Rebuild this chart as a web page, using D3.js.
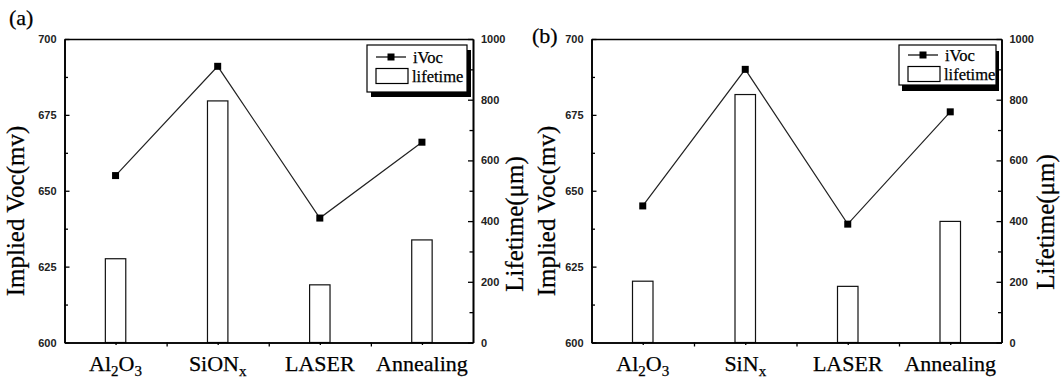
<!DOCTYPE html>
<html>
<head>
<meta charset="utf-8">
<script src="https://cdn.jsdelivr.net/npm/d3@7"></script>
<style>
  html, body { margin: 0; padding: 0; background: #fff; }
  svg { display: block; }
  .tick text { font-family: "Liberation Sans", Arial, sans-serif; font-weight: bold; font-size: 11px; fill: #222; }
  .serif { font-family: "Liberation Serif", "Times New Roman", serif; fill: #000; stroke: #000; stroke-width: 0.25px; }
</style>
</head>
<body>
<svg id="chart" width="1062" height="381"></svg>
<script>
// ---------------- data ----------------
const categoriesA = ["Al_2O_3", "SiON_x", "LASER", "Annealing"];
const ivocA       = [655, 691, 641, 666];     // mV
const lifetimeA   = [276, 796, 190, 338];

const categoriesB = ["Al_2O_3", "SiN_x", "LASER", "Annealing"];
const ivocB       = [645, 690, 639, 676];
const lifetimeB   = [202, 817, 185, 399];

const leftTicks   = [600, 625, 650, 675, 700];
const leftMinor   = [612.5, 637.5, 662.5, 687.5];
const rightTicks  = [0, 200, 400, 600, 800, 1000];
const rightMinor  = [100, 300, 500, 700, 900];
const leftTitle   = "Implied Voc(mv)";
const rightTitle  = "Lifetime(\u03bcm)";
const legendLabels = ["iVoc", "lifetime"];

// ---------------- layout ----------------
const panels = [
  { tag: "(a)", tagX: 9, tagY: 25, cats: categoriesA, ivoc: ivocA, life: lifetimeA,
    l: 64.5, r: 473, t: 39, b: 342.5, lt: [24, 211], rt: [523, 224],
    lg: { x: 367, y: 45, w: 100, h: 47, sx: 4, sy: 5, r1: 57, r2: 76 } },
  { tag: "(b)", tagX: 532, tagY: 43, cats: categoriesB, ivoc: ivocB, life: lifetimeB,
    l: 591.5, r: 1001.5, t: 39, b: 342.5, lt: [555, 211], rt: [1054, 222],
    lg: { x: 899, y: 45, w: 97, h: 40, sx: 3, sy: 6, r1: 55, r2: 74 } }
];

const svg = d3.select("#chart");

function addLabel(sel, txt, subSize) {
  const parts = txt.split(/(_.)/).filter(s => s.length);
  let prevSub = false;
  parts.forEach(p => {
    if (p[0] === "_") {
      sel.append("tspan").attr("font-size", subSize).attr("dy", 5).text(p[1]);
      prevSub = true;
    } else {
      const t = sel.append("tspan").text(p);
      if (prevSub) t.attr("dy", -5);
      prevSub = false;
    }
  });
}

panels.forEach(P => {
  const g = svg.append("g");
  const x = d3.scaleBand().domain(P.cats).range([P.l, P.r]).paddingInner(0).paddingOuter(0);
  const xl = d3.scaleLinear().domain([0, P.cats.length]).range([P.l, P.r]);
  const yL = d3.scaleLinear().domain([600, 700]).range([P.b, P.t]);
  const yR = d3.scaleLinear().domain([0, 1000]).range([P.b, P.t]);

  // bars (lifetime)
  const bw = x.bandwidth() * 0.2;
  g.append("g").selectAll("rect").data(P.life).join("rect")
    .attr("x", (d, i) => x(P.cats[i]) + x.bandwidth() / 2 - bw / 2)
    .attr("y", d => yR(d))
    .attr("width", bw)
    .attr("height", d => yR(0) - yR(d))
    .attr("fill", "#fff").attr("stroke", "#111").attr("stroke-width", 1.2);

  // line (iVoc)
  const line = d3.line()
    .x((d, i) => x(P.cats[i]) + x.bandwidth() / 2)
    .y(d => yL(d));
  g.append("path").datum(P.ivoc).attr("d", line)
    .attr("fill", "none").attr("stroke", "#222").attr("stroke-width", 1.2);
  g.append("g").selectAll("rect").data(P.ivoc).join("rect")
    .attr("x", (d, i) => x(P.cats[i]) + x.bandwidth() / 2 - 3.5)
    .attr("y", d => yL(d) - 3.5)
    .attr("width", 7).attr("height", 7).attr("fill", "#000");

  // axes
  const fmt = d3.format("d");
  g.append("g").attr("transform", `translate(${P.l},0)`)
    .call(d3.axisLeft(yL).tickValues(leftTicks).tickFormat(fmt).tickSizeInner(-5).tickSizeOuter(0).tickPadding(8));
  g.append("g").attr("transform", `translate(${P.l},0)`)
    .call(d3.axisLeft(yL).tickValues(leftMinor).tickSizeInner(-3.5).tickSizeOuter(0).tickFormat(""));
  g.append("g").attr("transform", `translate(${P.r},0)`)
    .call(d3.axisRight(yR).tickValues(rightTicks).tickFormat(fmt).tickSizeInner(-5).tickSizeOuter(0).tickPadding(8));
  g.append("g").attr("transform", `translate(${P.r},0)`)
    .call(d3.axisRight(yR).tickValues(rightMinor).tickSizeInner(-3.5).tickSizeOuter(0).tickFormat(""));
  g.append("g").attr("transform", `translate(0,${P.b})`)
    .call(d3.axisBottom(xl).tickValues([1, 2, 3]).tickSizeInner(4).tickSizeOuter(0).tickFormat(""));
  g.append("g").attr("transform", `translate(0,${P.b})`)
    .call(d3.axisBottom(xl).tickValues([0.5, 1.5, 2.5, 3.5]).tickSizeInner(2.5).tickSizeOuter(0).tickFormat(""));
  g.append("g").attr("transform", `translate(0,${P.t})`)
    .call(d3.axisTop(xl).tickValues([]).tickSizeOuter(0));
  g.selectAll(".domain").attr("stroke", "#000").attr("stroke-width", 1.6);
  g.selectAll(".tick line").attr("stroke", "#000").attr("stroke-width", 1.3);

  // category labels
  P.cats.forEach(c => {
    const t = g.append("text").attr("class", "serif")
      .attr("x", x(c) + x.bandwidth() / 2).attr("y", 371)
      .attr("text-anchor", "middle").attr("font-size", 22);
    addLabel(t, c, 15);
  });

  // axis titles
  g.append("text").attr("class", "serif")
    .attr("transform", `translate(${P.lt[0]},${P.lt[1]}) rotate(-90)`)
    .attr("text-anchor", "middle").attr("font-size", 25).text(leftTitle);
  g.append("text").attr("class", "serif")
    .attr("transform", `translate(${P.rt[0]},${P.rt[1]}) rotate(-90)`)
    .attr("text-anchor", "middle").attr("font-size", 25).text(rightTitle);

  // panel tag
  g.append("text").attr("class", "serif").attr("x", P.tagX).attr("y", P.tagY)
    .attr("font-size", 22).text(P.tag);

  // legend
  const L = P.lg;
  g.append("rect").attr("x", L.x + L.sx).attr("y", L.y + L.sy).attr("width", L.w).attr("height", L.h).attr("fill", "#000");
  g.append("rect").attr("x", L.x).attr("y", L.y).attr("width", L.w).attr("height", L.h)
    .attr("fill", "#fff").attr("stroke", "#000").attr("stroke-width", 1.2);
  g.append("line").attr("x1", L.x + 9).attr("x2", L.x + 39).attr("y1", L.r1).attr("y2", L.r1)
    .attr("stroke", "#000").attr("stroke-width", 1.2);
  g.append("rect").attr("x", L.x + 24 - 3.5).attr("y", L.r1 - 3.5).attr("width", 7).attr("height", 7).attr("fill", "#000");
  g.append("text").attr("class", "serif").attr("x", L.x + 46).attr("y", L.r1 + 5.5)
    .attr("font-size", 16.5).text(legendLabels[0]);
  g.append("rect").attr("x", L.x + 9).attr("y", L.r2 - 7.5).attr("width", 32).attr("height", 15)
    .attr("fill", "#fff").attr("stroke", "#000").attr("stroke-width", 1.2);
  g.append("text").attr("class", "serif").attr("x", L.x + 45).attr("y", L.r2 + 5.5)
    .attr("font-size", 16.5).text(legendLabels[1]);
});
</script>
</body>
</html>
